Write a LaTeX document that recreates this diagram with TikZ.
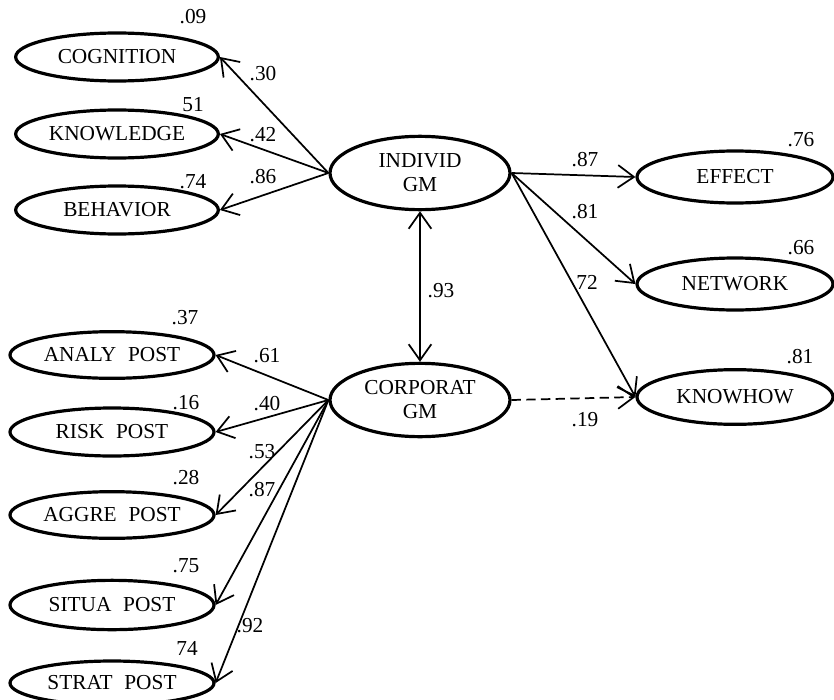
\documentclass[tikz,border=0pt]{standalone}
\usepackage{fontspec}
\setmainfont{Liberation Serif}
\usetikzlibrary{shapes.geometric,arrows.meta}
\tikzset{
  var/.style={ellipse, draw, line width=2.4pt, inner sep=0pt,
    minimum width=152pt, minimum height=36pt, font=\fontsize{16}{18}\selectfont, align=center},
  lat/.style={var, minimum width=135pt, minimum height=55pt},
  outv/.style={var, minimum width=147pt, minimum height=39pt},
  coef/.style={inner sep=0pt, font=\fontsize{16}{18}\selectfont},
  barb/.style={Straight Barb[length=12pt,width=17pt,line width=1.3pt]},
  path/.style={line width=1.3pt, -{Straight Barb[length=12pt,width=17pt,line width=1.3pt]}},
  both/.style={line width=1.3pt, {Straight Barb[length=12pt,width=17pt,line width=1.3pt]}-{Straight Barb[length=12pt,width=17pt,line width=1.3pt]}}
}
\newcommand{\wsp}{\hspace{0.55em}}
\begin{document}
\begin{tikzpicture}[x=0.75pt,y=-0.75pt]
\useasboundingbox (0,0) rectangle (834,699);

% latent factors
\node[lat] (indiv) at (420,173) {INDIVID\\GM};
\node[lat] (corp) at (420,400) {CORPORAT\\GM};

% indicators of the individual factor
\node[var] (cog) at (117,57) {COGNITION};
\node[var] (know) at (117,134) {KNOWLEDGE};
\node[var] (beh) at (117,210) {BEHAVIOR};

% indicators of the corporate factor
\node[var, minimum width=153pt, minimum height=35pt] (analy) at (112,355) {ANALY\wsp POST};
\node[var, minimum width=153pt, minimum height=36pt] (risk) at (112,432) {RISK\wsp POST};
\node[var, minimum width=153pt, minimum height=35pt] (aggre) at (112,515) {AGGRE\wsp POST};
\node[var, minimum width=153pt, minimum height=37pt] (situa) at (112,605) {SITUA\wsp POST};
\node[var, minimum width=153pt, minimum height=33pt] (strat) at (112,683) {STRAT\wsp POST};

% outcomes
\node[outv] (effect) at (735,177) {EFFECT};
\node[outv] (network) at (735,284) {NETWORK};
\node[outv, minimum height=41pt] (knowhow) at (735,397) {KNOWHOW};

% loadings
\draw[path] (indiv.west) -- (cog.east);
\draw[path] (indiv.west) -- (know.east);
\draw[path] (indiv.west) -- (beh.east);
\draw[path] (corp.west) -- (analy.east);
\draw[path] (corp.west) -- (risk.east);
\draw[path] (corp.west) -- (aggre.east);
\draw[path] (corp.west) -- (situa.east);
\draw[path] (corp.west) -- (strat.east);

% structural paths
\draw[path] (indiv.east) -- (effect.west);
\draw[path] (indiv.east) -- (network.west);
\draw[path] (indiv.east) -- (knowhow.west);
\draw[path, dash pattern=on 7pt off 4pt] (corp.east) -- (knowhow.west);
\draw[both] (indiv.south) -- (corp.north);

% coefficients
\node[coef] (c1) at (193,17) {.09};
\node[coef] (c2) at (193,105) {51};
\node[coef] (c3) at (193,182) {.74};
\node[coef] (c4) at (263,74) {.30};
\node[coef] (c5) at (263,135) {.42};
\node[coef] (c6) at (263,177) {.86};
\node[coef] (c7) at (585,160) {.87};
\node[coef] (c8) at (585,212) {.81};
\node[coef] (c9) at (587,282) {72};
\node[coef] (c10) at (801,140) {.76};
\node[coef] (c11) at (801,248) {.66};
\node[coef] (c12) at (800,357) {.81};
\node[coef] (c13) at (585,420) {.19};
\node[coef] (c14) at (441,291) {.93};
\node[coef] (c15) at (185,318) {.37};
\node[coef] (c16) at (186,403) {.16};
\node[coef] (c17) at (186,478) {.28};
\node[coef] (c18) at (186,566) {.75};
\node[coef] (c19) at (187,648) {74};
\node[coef] (c20) at (267,356) {.61};
\node[coef] (c21) at (267,404) {.40};
\node[coef] (c22) at (262,452) {.53};
\node[coef] (c23) at (262,490) {.87};
\node[coef] (c24) at (250,626) {.92};
\end{tikzpicture}
\end{document}
